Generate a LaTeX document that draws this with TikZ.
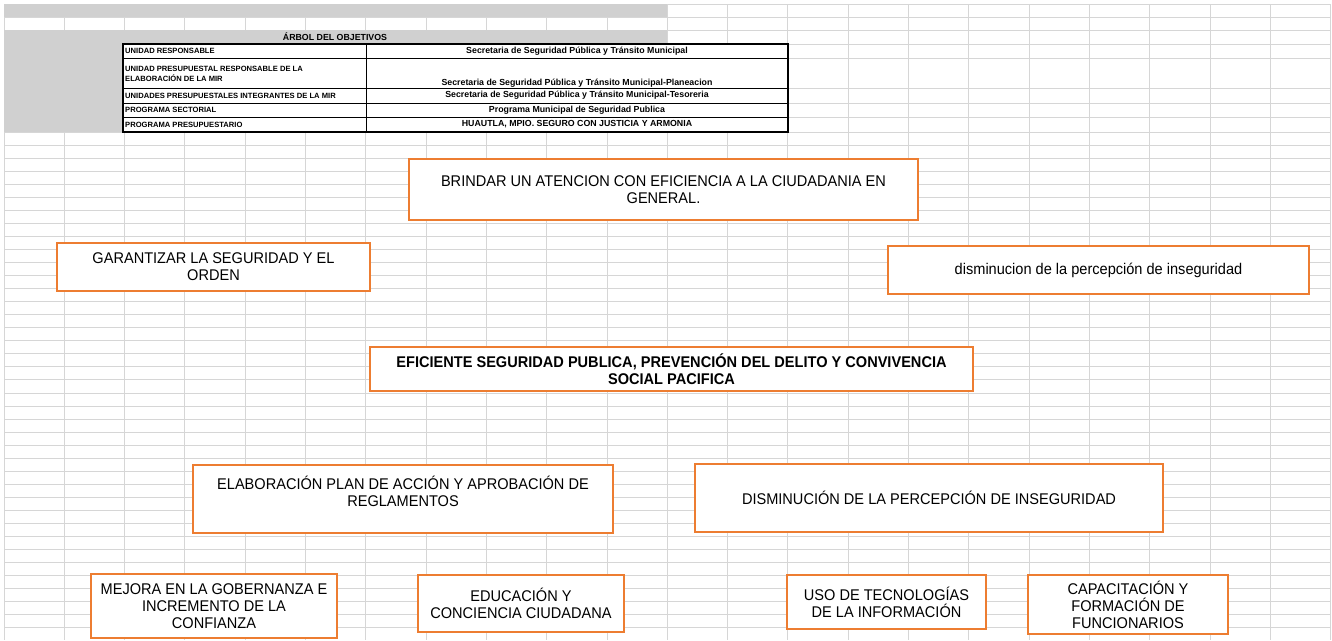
\documentclass[tikz,border=0pt]{standalone}
\usepackage{fontspec}
\setmainfont{Liberation Sans}
\newfontfamily\boxfont[FakeStretch=0.94]{Liberation Sans}
\definecolor{boxorange}{HTML}{ED7D31}
\definecolor{cellgray}{HTML}{D0D0D0}
\definecolor{gridgray}{HTML}{D6D6D6}

\begin{document}
\begin{tikzpicture}[x=1pt, y=-1pt,
  gridline/.style={draw=gridgray, line width=1pt},
  obox/.style={draw=boxorange, line width=1.5pt, fill=white, align=center, inner sep=2pt, font=\boxfont\fontsize{15.5}{17}\selectfont},
  keytxt/.style={anchor=west, align=left, inner sep=0pt, font=\fontsize{7.6}{9.5}\selectfont\bfseries},
  valtxt/.style={inner sep=0pt, font=\fontsize{8.8}{10}\selectfont\bfseries}]

  \useasboundingbox (0,0) rectangle (1332,640);

  % hoja de calculo
  \foreach \yy in {4,17,30,44,58,88,103,117,132}
    \draw[gridline] (4,\yy) -- (1331,\yy);
  \foreach \k in {1,...,38}
    \draw[gridline] (4,{132+13.05*\k}) -- (1331,{132+13.05*\k});
  \foreach \k in {0,...,22}
    \draw[gridline] ({4+60.3*\k},4) -- ({4+60.3*\k},640);

  \fill[cellgray] (4,4) rectangle (667,17);
  \fill[cellgray] (4,30) rectangle (667,44);
  \fill[cellgray] (4,44) rectangle (123,132);
  \fill[white] (123,44) rectangle (788,132);

  % encabezado
  \node[valtxt] (titulo) at (335,37) {ÁRBOL DEL OBJETIVOS};
  \draw[line width=1pt] (366,44) -- (366,132);
  \foreach \yy in {58,88,103,117}
    \draw[line width=1pt] (123,\yy) -- (788,\yy);
  \draw[line width=1.5pt] (123,44) rectangle (788,132);

  \node[keytxt] (unidad) at (125,51) {UNIDAD RESPONSABLE};
  \node[keytxt] (unidadmir) at (125,74) {UNIDAD PRESUPUESTAL RESPONSABLE DE LA\\ELABORACIÓN DE LA MIR};
  \node[keytxt] (integrantes) at (125,95.5) {UNIDADES PRESUPUESTALES INTEGRANTES DE LA MIR};
  \node[keytxt] (sectorial) at (125,110) {PROGRAMA SECTORIAL};
  \node[keytxt] (presupuestario) at (125,124.5) {PROGRAMA PRESUPUESTARIO};

  \node[valtxt] (unidadval) at (577,51) {Secretaria de Seguridad Pública y Tránsito Municipal};
  \node[valtxt] (unidadmirval) at (577,83) {Secretaria de Seguridad Pública y Tránsito Municipal-Planeacion};
  \node[valtxt] (integrantesval) at (577,95.5) {Secretaria de Seguridad Pública y Tránsito Municipal-Tesoreria};
  \node[valtxt] (sectorialval) at (577,110) {Programa Municipal de Seguridad Publica};
  \node[valtxt] (presupuestarioval) at (577,124.5) {HUAUTLA, MPIO. SEGURO CON JUSTICIA Y ARMONIA};

  % fines
  \node[obox, minimum width=509, minimum height=61] (brindar) at (663.5,189.5)
    {BRINDAR UN ATENCION CON EFICIENCIA A LA CIUDADANIA EN\\GENERAL.};
  \node[obox, minimum width=313, minimum height=48] (garantizar) at (213.5,267)
    {GARANTIZAR LA SEGURIDAD Y EL\\ORDEN};
  \node[obox, minimum width=421, minimum height=48] (percepcion) at (1098.5,270)
    {disminucion de la percepción de inseguridad};

  % proposito
  \node[obox, minimum width=603, minimum height=44, font=\boxfont\fontsize{15.5}{17}\selectfont\bfseries] (eficiente) at (671.5,369)
    {EFICIENTE SEGURIDAD PUBLICA, PREVENCIÓN DEL DELITO Y CONVIVENCIA\\SOCIAL PACIFICA};

  % componentes
  \node[obox, minimum width=420, minimum height=68, text depth=15pt] (plan) at (403,499)
    {ELABORACIÓN PLAN DE ACCIÓN Y APROBACIÓN DE\\REGLAMENTOS};
  \node[obox, minimum width=468, minimum height=68] (disminucion) at (929,498)
    {DISMINUCIÓN DE LA PERCEPCIÓN DE INSEGURIDAD};

  % actividades
  \node[obox, minimum width=246, minimum height=64] (gobernanza) at (214,606)
    {MEJORA EN LA GOBERNANZA E\\INCREMENTO DE LA\\CONFIANZA};
  \node[obox, minimum width=206, minimum height=57] (educacion) at (521,603.5)
    {EDUCACIÓN Y\\CONCIENCIA CIUDADANA};
  \node[obox, minimum width=199, minimum height=54] (tecnologias) at (886.5,602)
    {USO DE TECNOLOGÍAS\\DE LA INFORMACIÓN};
  \node[obox, minimum width=200, minimum height=59] (capacitacion) at (1128,604.5)
    {CAPACITACIÓN Y\\FORMACIÓN DE\\FUNCIONARIOS};

\end{tikzpicture}
\end{document}
